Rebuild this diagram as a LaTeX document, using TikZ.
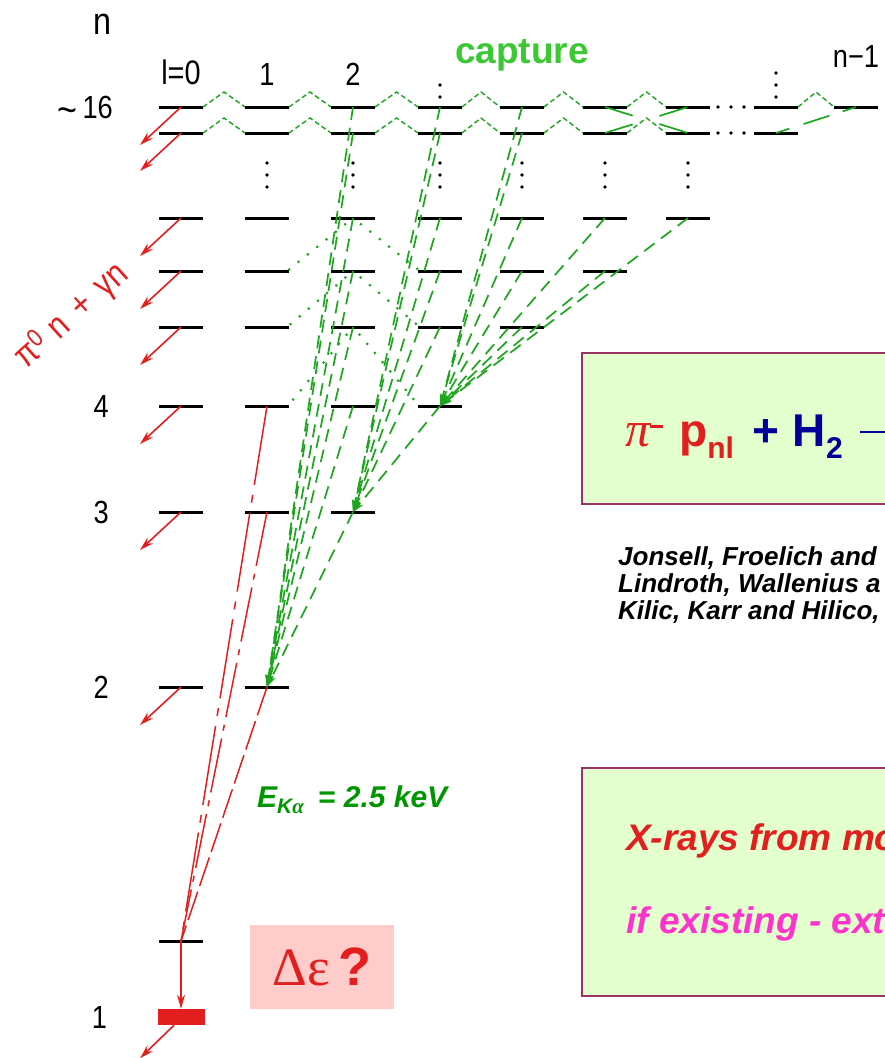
\documentclass[tikz,border=0pt]{standalone}
\usepackage{fontspec}
\setmainfont{Liberation Sans}
\newfontfamily\plotfont[FakeStretch=0.85]{Liberation Sans}
\newfontfamily\symbfont{Liberation Serif}
\usetikzlibrary{arrows.meta,positioning,calc}
\definecolor{decayred}{RGB}{226,30,30}
\definecolor{cascgreen}{RGB}{30,165,30}
\definecolor{capgreen}{RGB}{60,200,50}
\definecolor{kagreen}{RGB}{0,150,0}
\definecolor{boxfill}{RGB}{227,255,206}
\definecolor{boxline}{RGB}{153,51,102}
\definecolor{shiftpink}{RGB}{255,204,204}
\definecolor{hblue}{RGB}{0,0,153}
\definecolor{extmag}{RGB}{255,51,204}

\begin{document}
\begin{tikzpicture}[x=1pt,y=-1pt,
  lvl/.style={fill=black,minimum width=44pt,minimum height=3pt,inner sep=0pt,outer sep=0pt},
  lbl/.style={font=\plotfont\fontsize{32}{32}\selectfont,inner sep=0pt},
  decay/.style={decayred,line width=1.6pt,-{Stealth[length=14pt,width=8pt]}},
  xray/.style={decayred,line width=1.5pt},
  casc/.style={cascgreen,line width=1.7pt,dash pattern=on 13pt off 8pt,-{Stealth[length=12pt,width=7pt]}},
  capt/.style={cascgreen,line width=1.4pt,dash pattern=on 5pt off 3pt},
  mix/.style={cascgreen,line width=1.7pt,dash pattern=on 29pt off 28pt},
  stark/.style={cascgreen,line width=3pt,line cap=round,dash pattern=on 0pt off 12pt,shorten <=10pt},
  infobox/.style={draw=boxline,line width=2pt,fill=boxfill,minimum width=340pt,anchor=north west},
  boxtxt/.style={anchor=base west,inner sep=0pt,font=\bfseries\itshape\fontsize{37}{37}\selectfont}]

\useasboundingbox (0,0) rectangle (885,1058);
\clip (0,0) rectangle (885,1058);

\foreach \n/\y/\lmax in {16/107/6,15/133/6,7/218/6,6/271/5,5/327/4,4/406/3,3/512/2,2/687/1}
  \foreach \l in {0,...,\lmax}{
    \pgfmathsetmacro\cx{{181,267,353,440,522,605,688}[\l]}
    \node[lvl] (n\n-\l) at (\cx,\y) {};
  }
\node[lvl] (n16-k) at (776,107) {};
\node[lvl] (n15-k) at (776,133) {};
\node[lvl] (n16-m) at (856,107) {};
\node[lvl] (n1-0) at (181,941) {};
\node[fill=decayred,minimum width=47pt,minimum height=16pt,inner sep=0pt] (n1s) at (181,1017) {};

\foreach \l in {1,...,6}{
  \pgfmathsetmacro\cx{{181,267,353,440,522,605,688}[\l]}
  \foreach \y in {163,175,187} \fill (\cx,\y) circle (1.8pt);
}
\foreach \y in {85,97} \fill (440,\y) circle (1.8pt);
\foreach \y in {73,85,97} \fill (776,\y) circle (1.8pt);
\foreach \x in {718,731,744}{\fill (\x,107) circle (1.8pt); \fill (\x,133) circle (1.8pt);}

\node[lbl,font=\plotfont\fontsize{38}{38}\selectfont,anchor=south] (nhead) at (102,35) {n};
\node[lbl,font=\plotfont\fontsize{34}{34}\selectfont,above=20pt of n16-0] (col0) {l=0};
\node[lbl,above=20pt of n16-1] (col1) {1};
\node[lbl,above=20pt of n16-2] (col2) {2};
\node[lbl,above=38pt of n16-m] (colm) {n−1};
\node[lbl,anchor=base east] (row16) at ($(n16-0.west)+(-46,11)$)
  {\raisebox{-5pt}{\fontsize{40}{32}\selectfont\textasciitilde}\,16};
\node[lbl,left=50pt of n4-0] (row4) {4};
\node[lbl,left=50pt of n3-0] (row3) {3};
\node[lbl,left=50pt of n2-0] (row2) {2};
\node[lbl,left=50pt of n1s] (row1) {1};
\node[anchor=base,inner sep=0pt,text=capgreen,font=\bfseries\fontsize{37}{37}\selectfont] (capture) at (522,63) {capture};
\node[lbl,font=\plotfont\fontsize{36}{36}\selectfont,text=decayred,rotate=42] (pizero) at (72,316)
  {π\textsuperscript{0}\hspace{10pt}n\hspace{14pt}+\hspace{14pt}γn};

\foreach \n in {16,15}
  \foreach \l [count=\r from 1] in {0,...,5}
    \draw[capt] (n\n-\l.east) -- ($(n\n-\l.east)!.5!(n\n-\r.west)+(0,-15)$) -- (n\n-\r.west);
\draw[capt] (n16-k.east) -- ($(n16-k.east)!.5!(n16-m.west)+(0,-15)$) -- (n16-m.west);
\draw[mix] (n16-5.center) -- (n15-6.center);
\draw[mix] (n15-5.center) -- (n16-6.center);
\draw[mix,dash pattern=on 14pt off 15pt on 27pt off 14pt] (n15-k.center) -- (n16-m.center);

\foreach \n/\m in {7/6,6/5,5/4}{
  \draw[stark] (n\n-2.center) -- (n\m-1.north east);
  \draw[stark] (n\n-2.center) -- (n\m-3.north west);
}

\foreach \s/\t in {n16-2/n2-1,n15-2/n2-1,n7-2/n2-1,n6-2/n2-1,n5-2/n2-1,n4-2/n2-1,n3-2/n2-1,
    n16-3/n3-2,n15-3/n3-2,n7-3/n3-2,n6-3/n3-2,n5-3/n3-2,n4-3/n3-2,
    n16-4/n4-3,n15-4/n4-3,n7-4/n4-3,n6-4/n4-3,n5-4/n4-3,n7-5/n4-3,n6-5/n4-3,n7-6/n4-3}
  \draw[casc] (\s.center) -- (\t.center);

\foreach \n in {16,15,7,6,5,4,3,2}
  \draw[decay] (n\n-0.center) -- ++(-41,38);
\draw[decay] ([xshift=-7pt]n1s.south) -- ++(-34,33);
\draw[decay] (n1-0.center) -- (n1s.north);
\draw[xray,dash pattern=on 30pt off 6pt] (n2-1.center) -- (n1-0.center);
\draw[xray,dash pattern=on 55pt off 8pt on 6pt off 8pt] (n3-1.center) -- (n1-0.center);
\draw[xray,dash pattern=on 80pt off 10pt on 8pt off 10pt] (n4-1.center) -- (n1-0.center);

\node[anchor=base west,inner sep=0pt,text=kagreen,font=\bfseries\itshape\fontsize{30}{30}\selectfont] (eka) at (257,807)
  {E\raisebox{-6pt}{\fontsize{21}{21}\selectfont K{\symbfont α}}\hspace{14pt}= 2.5 keV};
\node[fill=shiftpink,minimum width=144pt,minimum height=84pt,inner sep=0pt,text=decayred,
  font=\fontsize{54}{54}\selectfont] (shift) at (322,967) {{\symbfont Δε}\,\textbf{?}};

\node[infobox,minimum height=151pt] (molbox) at (581,352) {};
\node[boxtxt,font=\bfseries\fontsize{46}{46}\selectfont] (reac) at (625,446)
  {\textcolor{decayred}{{\symbfont\mdseries\itshape\fontsize{50}{50}\selectfont π}\raisebox{18pt}{\rule{13pt}{3.5pt}}\hspace{16pt}p\raisebox{-12pt}{\fontsize{30}{30}\selectfont nl}}\hspace{18pt}\textcolor{hblue}{+\hspace{14pt}H\raisebox{-12pt}{\fontsize{30}{30}\selectfont 2}\hspace{17pt}\raisebox{13pt}{\rule{60pt}{2.5pt}}}};
\foreach \t [count=\i] in {{Jonsell, Froelich and},{Lindroth, Wallenius a},{Kilic, Karr and Hilico,}}
  \node[boxtxt,font=\bfseries\itshape\fontsize{26}{26}\selectfont] (ref\i) at (618,538+27*\i) {\t};

\node[infobox,minimum height=228pt] (xbox) at (581,767) {};
\node[boxtxt,text=decayred] (xline) at (626,850) {X-rays from mo};
\node[boxtxt,text=extmag] (exline) at (626,933) {if existing - ext};
\end{tikzpicture}
\end{document}
